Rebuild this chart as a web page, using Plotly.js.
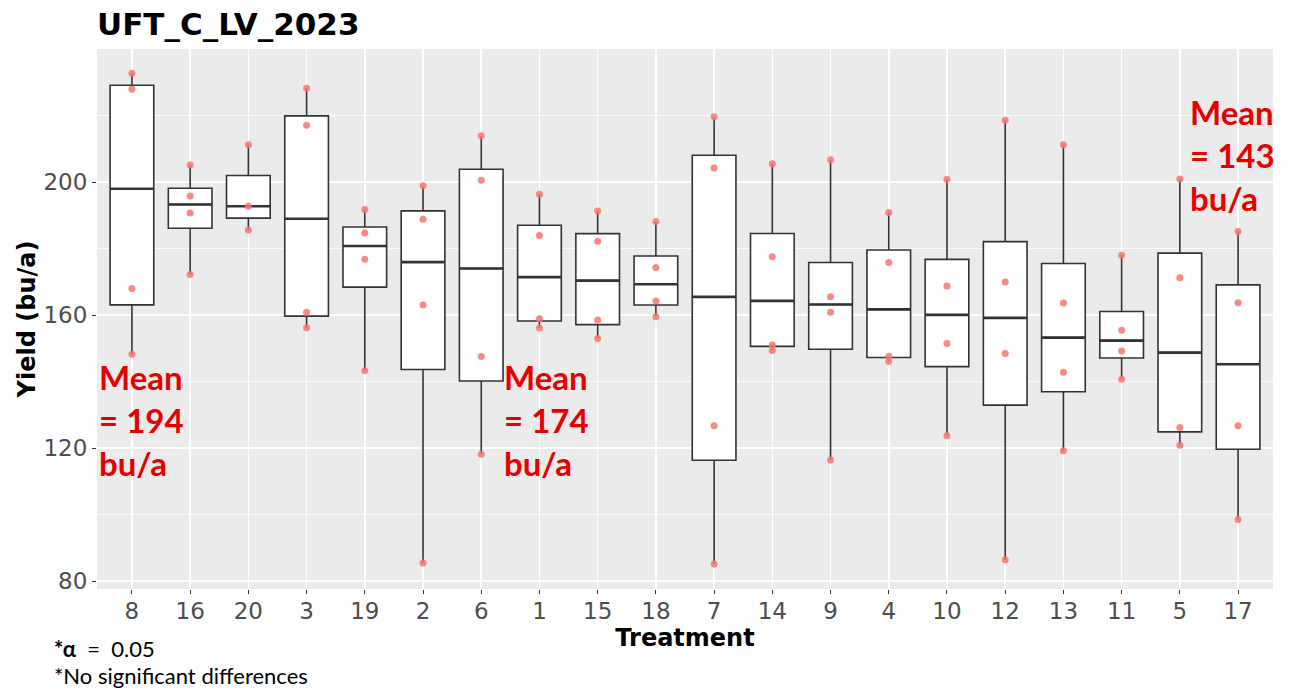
<!DOCTYPE html>
<html>
<head>
<meta charset="utf-8">
<script src="https://cdn.plot.ly/plotly-3.0.1.min.js"></script>
<style>
  html, body { margin: 0; padding: 0; background: #ffffff; }
  #chart { width: 1290px; height: 692px; }
</style>
</head>
<body>
<div id="chart"></div>
<script>
// ---- data ----
const treatments = ["8","16","20","3","19","2","6","1","15","18","7","14","9","4","10","12","13","11","5","17"];
const yields = [
  [232.7, 227.9, 168.0, 148.2],   // 8
  [205.1, 195.8, 190.7, 172.2],   // 16
  [211.2, 192.7, 185.6],          // 20
  [228.2, 217.1, 160.8, 156.2],   // 3
  [191.7, 184.7, 176.8, 143.2],   // 19
  [198.9, 188.8, 163.0, 85.4],    // 2
  [213.9, 200.5, 147.5, 118.1],   // 6
  [196.3, 183.9, 158.9, 156.1],   // 1
  [191.3, 182.2, 158.5, 152.9],   // 15
  [188.1, 174.3, 164.2, 159.5],   // 18
  [219.6, 204.2, 126.7, 85.1],    // 7
  [205.5, 177.5, 151.0, 149.3],   // 14
  [206.7, 165.5, 160.8, 116.4],   // 9
  [190.8, 175.8, 147.6, 146.0],   // 4
  [200.8, 168.7, 151.4, 123.7],   // 10
  [218.6, 169.9, 148.4, 86.4],    // 12
  [211.2, 163.6, 142.8, 119.2],   // 13
  [178.0, 155.4, 149.2, 140.7],   // 11
  [200.9, 171.2, 126.2, 120.8],   // 5
  [185.1, 163.7, 126.7, 98.5]     // 17
];
const yTicks = [80, 120, 160, 200];
const yMinor = [100, 140, 180, 220];
const chartTitle = "UFT_C_LV_2023";
const meanNotes = ["Mean<br>= 194<br>bu/a", "Mean<br>= 174<br>bu/a", "Mean<br>= 143<br>bu/a"];
const footNotes = ["<b>*α</b>  =  0.05", "*No significant differences"];

// ---- statistics (ggplot / R type-7 quantiles) ----
function quant(sorted, p) {
  const n = sorted.length;
  const h = (n - 1) * p;
  const lo = Math.floor(h);
  const hi = Math.min(lo + 1, n - 1);
  return sorted[lo] + (h - lo) * (sorted[hi] - sorted[lo]);
}
const idx = treatments.map((_, i) => i);
const q1 = [], med = [], q3 = [], lo = [], hi = [];
yields.forEach(v => {
  const s = v.slice().sort((a, b) => a - b);
  const a = quant(s, 0.25), m = quant(s, 0.5), b = quant(s, 0.75);
  const iqr = b - a;
  q1.push(a); med.push(m); q3.push(b);
  lo.push(Math.min(...s.filter(x => x >= a - 1.5 * iqr)));
  hi.push(Math.max(...s.filter(x => x <= b + 1.5 * iqr)));
});

const boxW = 0.75;
const boxLine = '#333333';

const boxTrace = {
  type: 'box',
  x: idx,
  q1: q1, median: med, q3: q3,
  lowerfence: lo, upperfence: hi,
  width: boxW,
  whiskerwidth: 0,
  boxpoints: false,
  fillcolor: '#ffffff',
  line: { color: boxLine, width: 1.6 },
  hoverinfo: 'skip',
  showlegend: false
};

const mx = [], my = [];
idx.forEach(i => {
  mx.push(i - boxW / 2, i + boxW / 2, null);
  my.push(med[i], med[i], null);
});
const medianTrace = {
  type: 'scatter', mode: 'lines',
  x: mx, y: my,
  line: { color: boxLine, width: 2.6 },
  hoverinfo: 'skip', showlegend: false
};

const px = [], py = [];
yields.forEach((v, i) => v.forEach(y => { px.push(i); py.push(y); }));
const pointTrace = {
  type: 'scatter', mode: 'markers',
  x: px, y: py,
  marker: { color: '#F8766D', size: 7, opacity: 0.85 },
  hoverinfo: 'skip', showlegend: false
};

const red = '#E60000';
const noteFont = { family: 'Lato, "Open Sans", sans-serif', size: 33, color: red, weight: 'bold' };
const footFont = { family: 'Lato, sans-serif', size: 22, color: '#000000' };
const annotations = [
  { text: meanNotes[0], xref: 'paper', yref: 'paper', x: 0, y: 0.313, xanchor: 'left', yanchor: 'middle', align: 'left', showarrow: false, font: noteFont },
  { text: meanNotes[1], xref: 'paper', yref: 'paper', x: 0.3444, y: 0.313, xanchor: 'left', yanchor: 'middle', align: 'left', showarrow: false, font: noteFont },
  { text: meanNotes[2], xref: 'paper', yref: 'paper', x: 0.9277, y: 0.803, xanchor: 'left', yanchor: 'middle', align: 'left', showarrow: false, font: noteFont },
  { text: footNotes[0], xref: 'paper', yref: 'paper', x: -0.0383, y: -0.1093, xanchor: 'left', yanchor: 'middle', align: 'left', showarrow: false, font: footFont },
  { text: footNotes[1], xref: 'paper', yref: 'paper', x: -0.0383, y: -0.1611, xanchor: 'left', yanchor: 'middle', align: 'left', showarrow: false, font: footFont }
];

const layout = {
  width: 1290, height: 692,
  margin: { l: 97, r: 17, t: 49, b: 103 },
  paper_bgcolor: '#ffffff',
  plot_bgcolor: '#EBEBEB',
  font: { family: '"DejaVu Sans", sans-serif', color: '#4D4D4D' },
  title: {
    text: chartTitle,
    font: { family: '"DejaVu Sans", sans-serif', size: 31, color: '#000000', weight: 'bold' },
    xref: 'paper', x: 0, xanchor: 'left',
    yref: 'container', y: 0.965, yanchor: 'middle'
  },
  xaxis: {
    range: [-0.6, treatments.length - 0.4],
    tickmode: 'array', tickvals: idx, ticktext: treatments,
    showgrid: true, gridcolor: '#ffffff', gridwidth: 1.6,
    zeroline: false, showline: false,
    ticks: 'outside', ticklen: 4, tickwidth: 1, tickcolor: '#333333',
    tickfont: { size: 23, color: '#4D4D4D' },
    ticklabelstandoff: -3,
    title: { text: 'Treatment', font: { size: 24, color: '#000000', weight: 'bold' }, standoff: 6 },
    fixedrange: true
  },
  yaxis: {
    range: [77.6, 240.0],
    tickmode: 'array', tickvals: yTicks,
    showgrid: true, gridcolor: '#ffffff', gridwidth: 1.6,
    minor: { tickmode: 'array', tickvals: yMinor, showgrid: true, gridcolor: '#ffffff', gridwidth: 0.8, ticks: '' },
    zeroline: false, showline: false,
    ticks: 'outside', ticklen: 4, tickwidth: 1, tickcolor: '#333333',
    tickfont: { size: 23, color: '#4D4D4D' },
    title: { text: 'Yield (bu/a)', font: { size: 24, color: '#000000', weight: 'bold' }, standoff: 1 },
    fixedrange: true
  },
  annotations: annotations,
  showlegend: false
};

Plotly.newPlot('chart', [boxTrace, medianTrace, pointTrace], layout, { displayModeBar: false, staticPlot: true });
</script>
</body>
</html>
